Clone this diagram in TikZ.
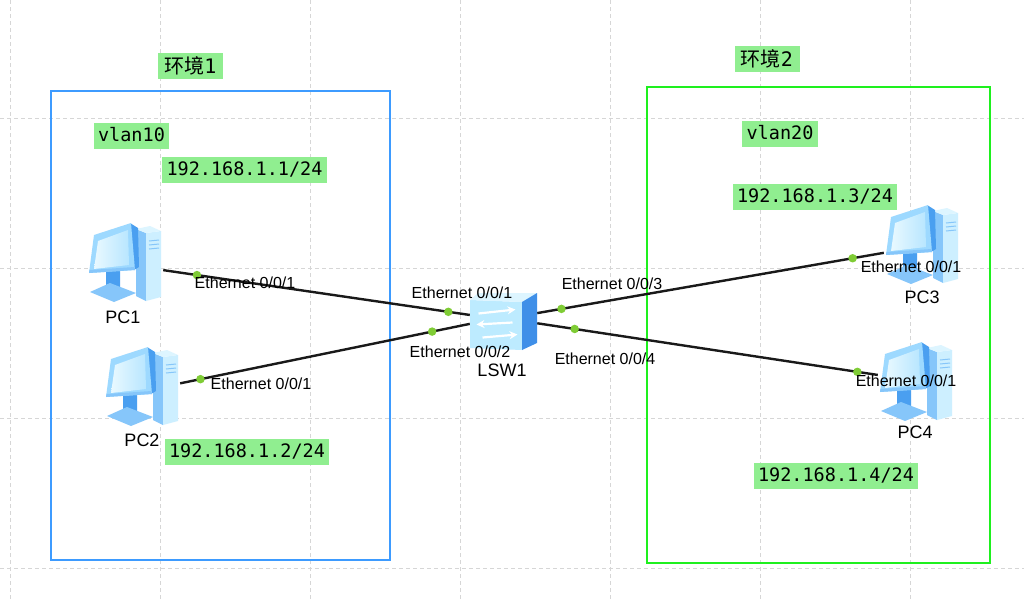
\documentclass[tikz,border=0pt]{standalone}
\usepackage{fontspec}
\setmainfont{Liberation Sans}
\newfontfamily\monofont{DejaVu Sans Mono}
\newfontfamily\cjkfont{Noto Sans CJK SC}
\usetikzlibrary{arrows.meta}
\definecolor{gridgray}{HTML}{D6D6D6}
\definecolor{boxblue}{HTML}{3D9BFF}
\definecolor{boxgreen}{HTML}{1EF01E}
\definecolor{lblgreen}{HTML}{90EE90}
\definecolor{dotgreen}{HTML}{7FCC35}
\definecolor{pcLight}{HTML}{CDEFFF}
\definecolor{pcMid}{HTML}{86C6FA}
\definecolor{pcDark}{HTML}{4A9FF0}
\definecolor{pcFrame}{HTML}{9DD9FF}
\definecolor{pcScreenA}{HTML}{E9F9FF}
\definecolor{pcScreenB}{HTML}{B8E6FF}
\definecolor{swFront}{HTML}{BDEBFF}
\definecolor{swTop}{HTML}{DDF5FF}
\definecolor{swSide}{HTML}{3F8FE8}
\tikzset{
  gridline/.style={draw=gridgray, line width=1pt, dash pattern=on 4pt off 3pt},
  glabel/.style={fill=lblgreen, inner xsep=4.5pt, inner ysep=0pt, minimum height=26pt,
    text height=13.5pt, text depth=2pt, font=\monofont\fontsize{18.5pt}{20pt}\selectfont},
  clabel/.style={fill=lblgreen, inner sep=0pt, minimum height=26pt, minimum width=65pt,
    font=\fontsize{20pt}{22pt}\selectfont},
  ethlabel/.style={inner sep=0pt, font=\fontsize{16pt}{18pt}\selectfont},
  namelabel/.style={inner sep=0pt, font=\fontsize{18pt}{20pt}\selectfont},
  pcbox/.style={minimum width=76pt, minimum height=74pt, inner sep=0pt},
  swbox/.style={minimum width=67pt, minimum height=58pt, inner sep=0pt},
  link/.style={draw=black!90, line width=2.4pt},
  portdot/.style={circle, fill=dotgreen, minimum size=8.5pt, inner sep=0pt},
  pcicon/.pic={
    \begin{scope}[shift={(-47,-43)}]
      % tower
      \fill[pcMid] (58,10) -- (68,14) -- (68,82) -- (58,77) -- cycle;
      \fill[pcLight] (68,14) -- (83,12) -- (83,78) -- (68,82) -- cycle;
      \fill[swTop] (58,10) -- (72,7) -- (83,12) -- (68,14) -- cycle;
      \draw[pcMid, line width=1pt] (71,22) -- (81,21) (71,26) -- (81,25) (71,30) -- (81,29);
      % stand
      \fill[pcDark] (28,50) -- (42,50) -- (42,70) -- (28,72) -- cycle;
      \fill[pcMid] (12,73) -- (32,64) -- (58,74) -- (36,83) -- cycle;
      % monitor
      \fill[pcDark] (52,4) -- (60,9) -- (61,48) -- (56,51) -- cycle;
      \fill[pcFrame] (16,16) -- (53,4) -- (57,51) -- (11,54) -- cycle;
      \shade[left color=pcScreenA, right color=pcScreenB] (20,22) -- (50,11) -- (51,46) -- (16,50) -- cycle;
      \fill[pcMid] (11,54) -- (57,51) -- (56.5,48) -- (11.5,51) -- cycle;
    \end{scope}
  },
  swicon/.pic={
    \fill[swFront] (-33.5,-21.5) -- (18.5,-19.5) -- (18.5,28.5) -- (-33.5,26.5) -- cycle;
    \fill[swTop] (-33.5,-21.5) -- (-25.5,-28.5) -- (33.5,-28.5) -- (18.5,-19.5) -- cycle;
    \fill[swSide] (18.5,-19.5) -- (33.5,-28.5) -- (33.5,21.5) -- (18.5,28.5) -- cycle;
    \draw[white, line width=2.2pt, -{Stealth[length=8pt,width=8pt]}] (-25,-8) -- (12,-12);
    \draw[white, line width=2.2pt, -{Stealth[length=8pt,width=8pt]}] (9,1) -- (-27,3);
    \draw[white, line width=2.2pt, -{Stealth[length=8pt,width=8pt]}] (-21,16) -- (14,13);
  }
}
\begin{document}
\begin{tikzpicture}[x=1pt,y=-1pt]
\useasboundingbox (0,0) rectangle (1024,600);
\fill[white] (0,0) rectangle (1024,600);
% grid
\foreach \gx in {10,160,310,460,610,760,910}
  \draw[gridline] (\gx,0) -- (\gx,600);
\foreach \gy in {118,268,418,568}
  \draw[gridline] (0,\gy) -- (1024,\gy);
% environment boxes
\draw[boxblue, line width=1.6pt] (51,91) rectangle (390,560);
\draw[boxgreen, line width=1.6pt] (647,87) rectangle (990,563);
% devices (placeholders with names)
\node[pcbox] (pc1) at (125,262) {};
\node[pcbox] (pc2) at (142,386) {};
\node[pcbox] (pc3) at (922,244) {};
\node[pcbox] (pc4) at (916,381) {};
\node[swbox] (sw) at (503.5,321.5) {};
% links
\draw[link] (pc1.-12) -- node[portdot, pos=0.11] (d1) {} node[portdot, pos=0.93] (d2) {} (sw.169);
\draw[link] (pc2.4) -- node[portdot, pos=0.07] (d3) {} node[portdot, pos=0.87] (d4) {} (sw.-176);
\draw[link] (sw.14) -- node[portdot, pos=0.07] (d5) {} node[portdot, pos=0.91] (d6) {} (pc3.-167);
\draw[link] (sw.-3) -- node[portdot, pos=0.11] (d7) {} node[portdot, pos=0.94] (d8) {} (pc4.171);
% icons
\pic at (pc1) {pcicon};
\pic at (pc2) {pcicon};
\pic at (pc3) {pcicon};
\pic at (pc4) {pcicon};
\pic at (sw) {swicon};
% device names
\node[namelabel] (n1) at (123,317) {PC1};
\node[namelabel] (n2) at (142,440) {PC2};
\node[namelabel] (n3) at (922,297) {PC3};
\node[namelabel] (n4) at (915,432) {PC4};
\node[namelabel] (n5) at (502,370) {LSW1};
% port labels
\node[ethlabel] (e1) at (245,283) {Ethernet 0/0/1};
\node[ethlabel] (e2) at (261,384) {Ethernet 0/0/1};
\node[ethlabel] (e3) at (462,293) {Ethernet 0/0/1};
\node[ethlabel] (e4) at (460,352) {Ethernet 0/0/2};
\node[ethlabel] (e5) at (612,284) {Ethernet 0/0/3};
\node[ethlabel] (e6) at (605,359) {Ethernet 0/0/4};
\node[ethlabel] (e7) at (911,267) {Ethernet 0/0/1};
\node[ethlabel] (e8) at (906,381) {Ethernet 0/0/1};
% green labels
\node[clabel] (env1) at (190.5,66) {{\cjkfont 环境}{\monofont 1}};
\node[clabel] (env2) at (767,58.5) {{\cjkfont 环境}{\monofont 2}};
\node[glabel] (v10) at (131.5,135.5) {vlan10};
\node[glabel] (v20) at (780,134) {vlan20};
\node[glabel] (ip1) at (244.5,170) {192.168.1.1/24};
\node[glabel] (ip2) at (247,452) {192.168.1.2/24};
\node[glabel] (ip3) at (815,197) {192.168.1.3/24};
\node[glabel] (ip4) at (836,476) {192.168.1.4/24};
\end{tikzpicture}
\end{document}
